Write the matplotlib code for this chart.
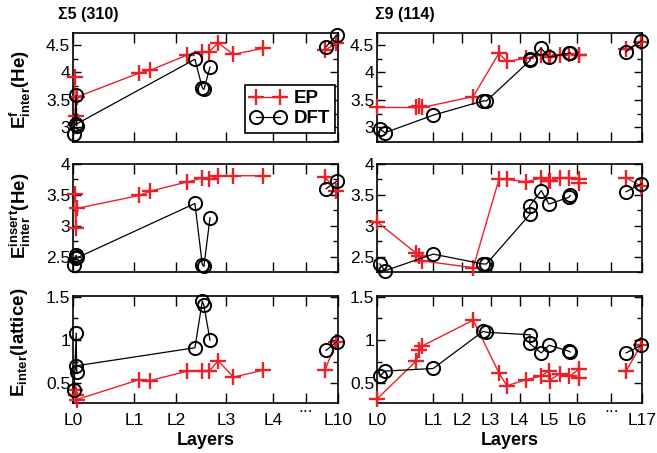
import numpy as np
import matplotlib

matplotlib.use("Agg")
import matplotlib.pyplot as plt
from matplotlib.ticker import MultipleLocator, FormatStrFormatter

nan = np.nan

# x positions (arbitrary layer-distance units, axis spans 0..10)
left_ticks = [0, 2.30, 3.89, 5.77, 7.55, 8.79, 10]
left_labels = ["L0", "L1", "L2", "L3", "L4", "", "L10"]
right_ticks = [0, 2.11, 3.20, 4.29, 5.38, 6.50, 7.56, 8.84, 10]
right_labels = ["L0", "L1", "L2", "L3", "L4", "L5", "L6", "", "L17"]

# Sigma5 (310)
s5_ep_x = [0.06, 0.10, 0.14, 2.50, 2.91, 4.32, 4.86, 5.14, 5.48, 6.05, 7.18, nan, 9.51, 9.93]
s5_ep_form = [3.92, 3.21, 3.55, 3.99, 4.04, 4.32, 4.38, 4.38, 4.54, 4.33, 4.44, nan, 4.41, 4.53]
s5_ep_insert = [3.52, 2.97, 3.28, 3.49, 3.56, 3.71, 3.77, 3.75, 3.80, 3.81, 3.81, nan, 3.79, 3.57]
s5_ep_lattice = [0.42, 0.36, 0.31, 0.54, 0.53, 0.64, 0.64, 0.64, 0.76, 0.57, 0.65, nan, 0.65, 0.98]

s5_dft_x = [0.04, 0.12, 0.14, 0.10, 4.60, 4.88, 4.94, 5.17, nan, 9.55, 9.95]
s5_dft_form = [2.88, 3.58, 3.03, 3.05, 4.24, 3.72, 3.69, 4.10, nan, 4.47, 4.68]
s5_dft_insert = [2.37, 2.52, 2.50, 2.47, 3.36, 2.37, 2.34, 3.13, nan, 3.60, 3.72]
s5_dft_lattice = [0.42, 1.08, 0.63, 0.70, 0.91, 1.45, 1.40, 1.00, nan, 0.88, 0.98]

# Sigma9 (114)
s9_ep_x = [0.01, 1.49, 1.60, 1.70, 3.63, 4.60, 4.90, 5.63, 6.17, 6.48, 6.51, 6.89, 7.26,
           7.62, 7.62, nan, 9.40, 9.96]
s9_ep_form = [3.36, 3.36, 3.38, 3.36, 3.56, 4.35, 4.20, 4.26, 4.32, 4.29, 4.29, 4.32, 4.34,
              4.32, 4.32, nan, 4.42, 4.56]
s9_ep_insert = [3.06, 2.55, 2.51, 2.43, 2.32, 3.75, 3.75, 3.71, 3.77, 3.73, 3.73, 3.77, 3.77,
                3.76, 3.70, nan, 3.78, 3.64]
s9_ep_lattice = [0.32, 0.76, 0.89, 0.93, 1.23, 0.62, 0.47, 0.54, 0.58, 0.64, 0.53, 0.61, 0.58,
                 0.66, 0.56, nan, 0.64, 0.94]

s9_dft_x = [0.11, 0.30, 2.12, 4.00, 4.13, 5.78, 5.76, 6.20, 6.49, 7.24, 7.29, nan, 9.40, 9.98]
s9_dft_form = [2.97, 2.90, 3.22, 3.48, 3.48, 4.22, 4.24, 4.44, 4.28, 4.35, 4.36, nan, 4.38, 4.58]
s9_dft_insert = [2.38, 2.27, 2.54, 2.38, 2.38, 3.19, 3.32, 3.57, 3.35, 3.46, 3.49, nan, 3.55, 3.68]
s9_dft_lattice = [0.58, 0.64, 0.67, 1.10, 1.09, 1.06, 0.96, 0.85, 0.94, 0.87, 0.86, nan, 0.85, 0.94]

row_ylims = [(2.73, 4.72), (2.25, 4.0), (0.27, 1.51)]
row_ylabels = [
    r"$\mathbf{E}^{\mathbf{f}}_{\mathbf{inter}}$(He)",
    r"$\mathbf{E}^{\mathbf{insert}}_{\mathbf{inter}}$(He)",
    r"$\mathbf{E}_{\mathbf{inter}}$(lattice)",
]

plt.rcParams["font.family"] = ["Liberation Sans", "DejaVu Sans"]
plt.rcParams["mathtext.fontset"] = "custom"
plt.rcParams["mathtext.rm"] = "Liberation Sans:bold"
plt.rcParams["mathtext.bf"] = "Liberation Sans:bold"
plt.rcParams["mathtext.it"] = "Liberation Sans:bold"

RED = "#ea2128"

fig = plt.figure(figsize=(6.57, 4.53), dpi=100)

W, H = 657.0, 453.0
col_left = [73, 377]
col_w = 265
rows = [(33, 142), (164, 272), (296, 403)]

columns = [
    dict(ticks=left_ticks, labels=left_labels, dots=8.79,
         ep_x=s5_ep_x, ep=[s5_ep_form, s5_ep_insert, s5_ep_lattice],
         dft_x=s5_dft_x, dft=[s5_dft_form, s5_dft_insert, s5_dft_lattice]),
    dict(ticks=right_ticks, labels=right_labels, dots=8.84,
         ep_x=s9_ep_x, ep=[s9_ep_form, s9_ep_insert, s9_ep_lattice],
         dft_x=s9_dft_x, dft=[s9_dft_form, s9_dft_insert, s9_dft_lattice]),
]

for c, col in enumerate(columns):
    for r, (top, bot) in enumerate(rows):
        ax = fig.add_axes([col_left[c] / W, 1 - bot / H, col_w / W, (bot - top) / H])
        ax.plot(col["ep_x"], col["ep"][r], color=RED, lw=1.0, marker="+", ms=11, mew=1.7,
                label="EP", clip_on=False, zorder=3)
        ax.plot(col["dft_x"], col["dft"][r], color="black", lw=0.9, marker="o", ms=9.5,
                mew=1.4, mfc="none", label="DFT", clip_on=False, zorder=4)
        ax.set_xlim(0, 10)
        ax.set_ylim(*row_ylims[r])
        ax.set_xticks(col["ticks"])
        ax.yaxis.set_major_locator(MultipleLocator(0.5))
        ax.yaxis.set_minor_locator(MultipleLocator(0.25))
        ax.yaxis.set_major_formatter(FormatStrFormatter("%g"))
        ax.tick_params(which="both", direction="in", top=True, right=True, width=1.0)
        ax.tick_params(axis="x", which="major", length=7, pad=7)
        ax.tick_params(axis="y", which="major", length=6, labelsize=12.5, pad=2)
        ax.tick_params(axis="y", which="minor", length=3.5)
        for sp in ax.spines.values():
            sp.set_linewidth(1.2)
        if r == 2:
            ax.set_xticklabels(col["labels"], fontsize=12.5)
            ax.set_xlabel("Layers", fontsize=13, fontweight="bold", labelpad=3)
            ax.annotate("...", xy=(col["dots"], 0), xycoords=("data", "axes fraction"),
                        xytext=(0, -6.5), textcoords="offset points",
                        ha="center", va="baseline", fontsize=12.5)
        else:
            ax.set_xticklabels([])
        if c == 0 and r == 0:
            ax.legend(loc="lower right", bbox_to_anchor=(0.99, 0.083),
                      prop={"weight": "bold", "size": 13.5}, numpoints=2,
                      handlelength=1.9, handletextpad=0.4, labelspacing=0.15,
                      borderpad=0.3, borderaxespad=0, fancybox=False, framealpha=1,
                      edgecolor="black")
            ax.get_legend().get_frame().set_linewidth(1.2)

for label, yc in zip(row_ylabels, [89, 216, 342]):
    fig.text(20 / W, 1 - yc / H, label, rotation=90, ha="center", va="center",
             fontsize=13.5, fontweight="bold")

fig.text(58 / W, 1 - 15 / H, "Σ5 (310)", ha="left", va="center", fontsize=11.5,
         fontweight="bold")
fig.text(375 / W, 1 - 15 / H, "Σ9 (114)", ha="left", va="center", fontsize=11.5,
         fontweight="bold")

fig.savefig("out.png", dpi=100)
plt.close(fig)
